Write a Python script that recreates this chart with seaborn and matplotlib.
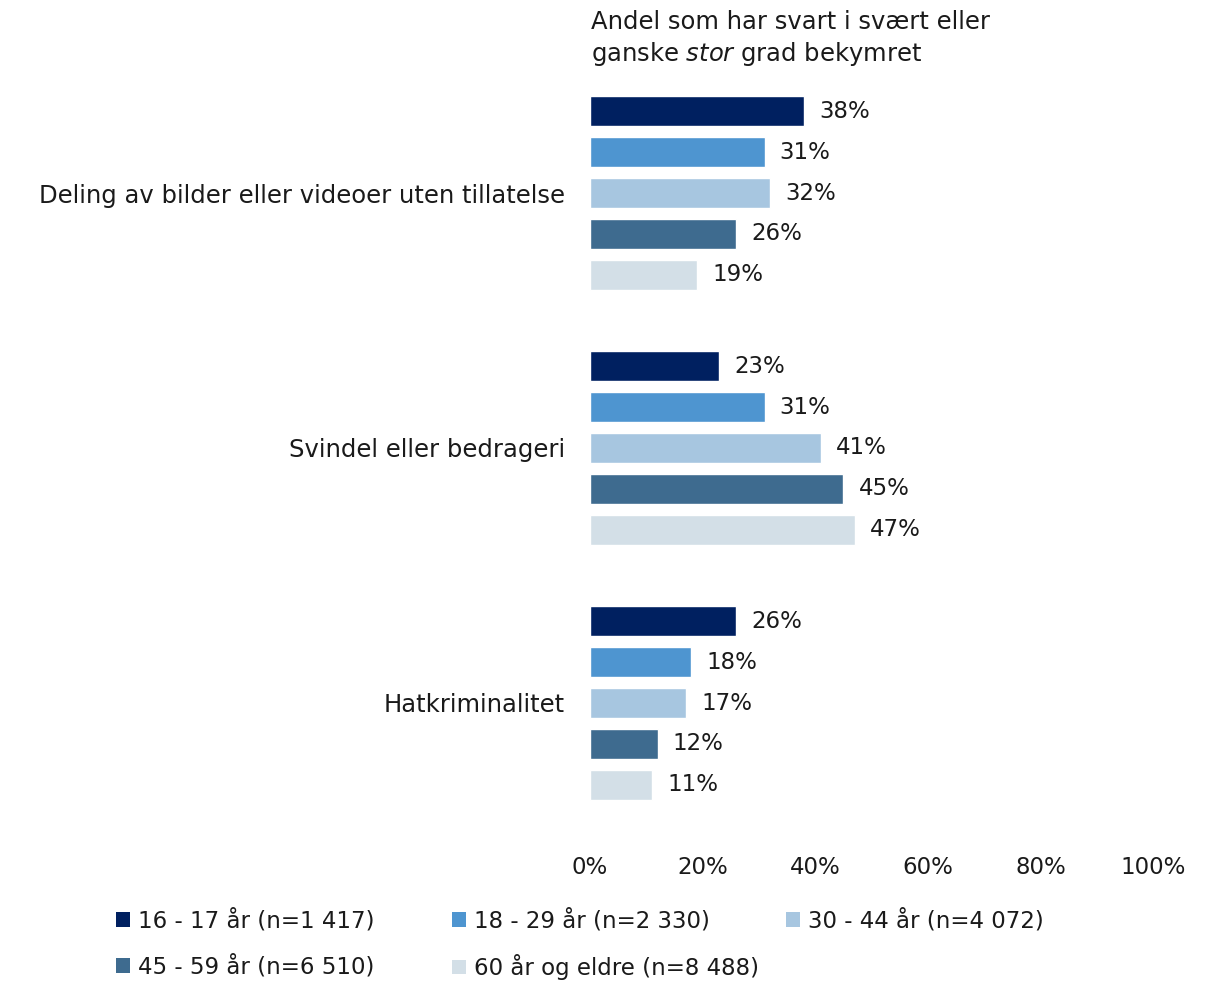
import matplotlib
matplotlib.use("Agg")
import matplotlib.pyplot as plt
import seaborn as sns
import pandas as pd
from matplotlib.patches import Patch

categories = ["Deling av bilder eller videoer uten tillatelse", "Svindel eller bedrageri", "Hatkriminalitet"]
groups = ["16 - 17 år (n=1 417)", "18 - 29 år (n=2 330)", "30 - 44 år (n=4 072)",
          "45 - 59 år (n=6 510)", "60 år og eldre (n=8 488)"]
values = {
    "16 - 17 år (n=1 417)": [38, 23, 26],
    "18 - 29 år (n=2 330)": [31, 31, 18],
    "30 - 44 år (n=4 072)": [32, 41, 17],
    "45 - 59 år (n=6 510)": [26, 45, 12],
    "60 år og eldre (n=8 488)": [19, 47, 11],
}
colors = ["#002060", "#4E95D0", "#A7C6E0", "#3E6B8F", "#D3DFE7"]
xticks = [0, 20, 40, 60, 80, 100]
title_line1 = "Andel som har svart i svært eller"

rows = []
for g in groups:
    for c, v in zip(categories, values[g]):
        rows.append({"cat": c, "grp": g, "val": v})
df = pd.DataFrame(rows)

sns.set_theme(style="white")
plt.rcParams["font.family"] = ["DejaVu Sans"]
plt.rcParams["mathtext.fontset"] = "custom"
plt.rcParams["mathtext.it"] = "DejaVu Sans:italic"
plt.rcParams["mathtext.rm"] = "DejaVu Sans"
FS_CAT = 17.5
FS_VAL = 16.5
FS_LEG = 16.5
TC = "#1a1a1a"

W, H = 1212, 982
fig = plt.figure(figsize=(W / 100, H / 100), dpi=100)
ax_top, ax_bot = 80, 848
ax = fig.add_axes([590 / W, 1 - ax_bot / H, (1153 - 590) / W, (ax_bot - ax_top) / H])

sns.barplot(data=df, y="cat", x="val", hue="grp", hue_order=groups, order=categories,
            palette=colors, orient="h", width=0.8, gap=0.26, ax=ax, legend=False,
            saturation=1, errorbar=None)

for cont in ax.containers:
    ax.bar_label(cont, labels=[f"{int(v)}%" for v in cont.datavalues], padding=11,
                 fontsize=FS_VAL, color=TC)

ax.set_xlim(0, 100)
ax.set_ylim((ax_bot - 193) / 255, (ax_top - 193) / 255)
ax.set_xticks(xticks)
ax.set_xticklabels([f"{t}%" for t in xticks], fontsize=FS_VAL, color=TC)
ax.tick_params(axis="x", length=0, pad=6)
ax.tick_params(axis="y", length=0, pad=18, labelsize=FS_CAT, labelcolor=TC)
ax.set_xlabel("")
ax.set_ylabel("")
for s in ax.spines.values():
    s.set_visible(False)

fig.text(591 / W, 1 - 22 / H, title_line1, fontsize=FS_CAT, va="center", ha="left", color=TC)
fig.text(591 / W, 1 - 54 / H, r"ganske $\mathit{stor}$ grad bekymret", fontsize=FS_CAT,
         va="center", ha="left", color=TC)

# legend laid out on a fixed grid (3 per row)
leg_pos = [(116, 921), (452, 921), (786, 921), (116, 967), (452, 967)]
for i, g in enumerate(groups):
    px, py = leg_pos[i]
    lg = fig.legend([Patch(facecolor=colors[i], edgecolor="none")], [g],
                    loc="center left", bbox_to_anchor=(px / W, 1 - py / H),
                    frameon=False, fontsize=FS_LEG, handlelength=0.62, handleheight=0.62,
                    handletextpad=0.35, borderaxespad=0, borderpad=0)
    for t in lg.get_texts():
        t.set_color(TC)

fig.savefig("out.png", dpi=100)
